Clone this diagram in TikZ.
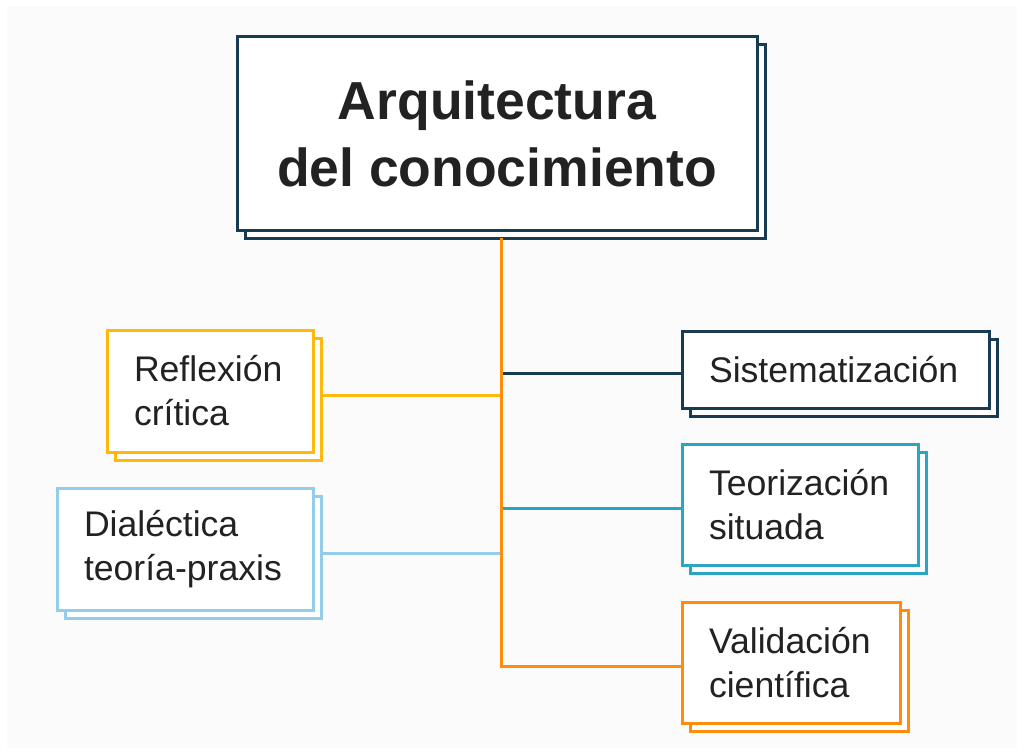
\documentclass[tikz,border=0pt]{standalone}
\usepackage{fontspec}
\setmainfont{Liberation Sans}
\usetikzlibrary{shadows,positioning}
\hyphenpenalty=10000
\exhyphenpenalty=10000
\definecolor{navy}{HTML}{173B51}
\definecolor{amber}{HTML}{FFB80C}
\definecolor{lblue}{HTML}{92CDEA}
\definecolor{teal2}{HTML}{2BA5C4}
\definecolor{orng}{HTML}{FF8C0A}
\definecolor{txt}{HTML}{222222}
\definecolor{bg}{HTML}{FBFBFB}
\tikzset{
  cshadow/.style={general shadow={shadow xshift=8pt, shadow yshift=-8pt, fill=white, draw=#1, line width=3pt}},
  mainbox/.style={draw=navy, line width=3pt, fill=white, cshadow=navy, minimum width=520pt, minimum height=193pt,
    inner sep=0pt, align=center, text=txt, font=\bfseries\fontsize{53.5}{67}\selectfont},
  childbox/.style={draw=#1, line width=3pt, fill=white, cshadow=#1, inner xsep=27pt, inner ysep=0pt,
    align=left, text=txt, font=\fontsize{35.6}{44}\selectfont},
  conn/.style={draw=#1, line width=3pt},
}
\begin{document}
\begin{tikzpicture}[x=1pt,y=-1pt]
\useasboundingbox (0,0) rectangle (1024,754);
\fill[white] (0,0) rectangle (1024,754);
\fill[bg] (7,6) rectangle (1017,748);

\node[mainbox] (main) at (497,133.5) {Arquitectura\\del conocimiento};
\coordinate (t) at (501,238);

\node[childbox=amber, text width=152pt, minimum height=122pt] (refl) at (210,391) {Reflexión\\crítica};
\node[childbox=lblue, text width=202pt, minimum height=122pt] (dial) at (185,549) {Dialéctica\\teoría-praxis};
\node[childbox=navy, text width=253pt, minimum height=77pt] (sist) at (835.5,369.5) {Sistematización};
\node[childbox=teal2, text width=182pt, minimum height=121pt] (teor) at (800,504.5) {Teorización\\situada};
\node[childbox=orng, text width=164pt, minimum height=121pt] (vali) at (791,662.5) {Validación\\científica};

\draw[conn=navy] (t) |- ([yshift=-4pt]sist.west);
\draw[conn=amber] (t) |- ([shift={(8pt,-4pt)}]refl.east);
\draw[conn=teal2] (t) |- ([yshift=-4pt]teor.west);
\draw[conn=lblue] (t) |- ([shift={(8pt,-4pt)}]dial.east);
\draw[conn=orng] (t) |- ([yshift=-4pt]vali.west);
\end{tikzpicture}
\end{document}
